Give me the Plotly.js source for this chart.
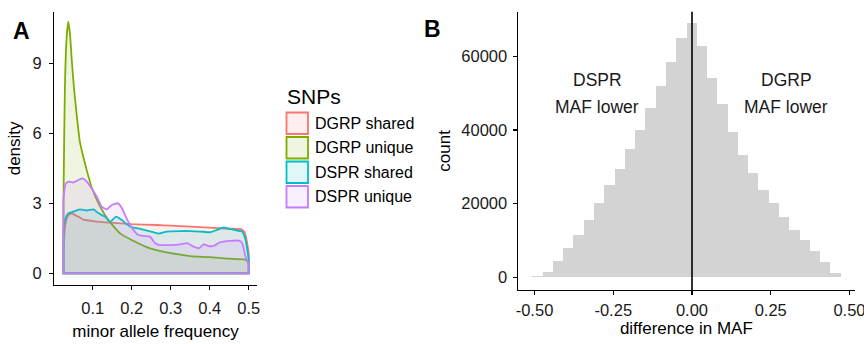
<!DOCTYPE html>
<html>
<head>
<meta charset="utf-8">
<script src="https://cdn.plot.ly/plotly-3.0.1.min.js"></script>
<style>html,body{margin:0;padding:0;background:#fff;}#chart{width:864px;height:344px;}</style>
</head>
<body>
<div id="chart"></div>
<script>
// ---------- Panel A: density of minor allele frequency ----------
const seriesNames = ["DGRP shared", "DGRP unique", "DSPR shared", "DSPR unique"];
const seriesColors = ["#F8766D", "#7CAE00", "#00BFC4", "#C77CFF"];

const dgrpSharedX = [0.025, 0.030, 0.036, 0.046, 0.060, 0.076, 0.100, 0.145, 0.200, 0.265, 0.300, 0.350, 0.400, 0.445, 0.480, 0.490, 0.496, 0.500];
const dgrpSharedY = [1.20, 2.10, 2.45, 2.57, 2.45, 2.30, 2.24, 2.17, 2.11, 2.07, 2.04, 2.00, 1.96, 1.91, 1.89, 1.75, 1.30, 0.86];

const dgrpUniqueX = [0.025, 0.027, 0.029, 0.033, 0.0375, 0.042, 0.046, 0.052, 0.059, 0.067, 0.075, 0.085, 0.097, 0.115, 0.140, 0.170, 0.200, 0.247, 0.300, 0.350, 0.400, 0.445, 0.488, 0.495, 0.500];
const dgrpUniqueY = [3.00, 6.00, 8.20, 10.07, 10.78, 10.20, 9.20, 7.93, 6.78, 5.64, 5.05, 4.40, 3.70, 3.00, 2.29, 1.71, 1.43, 1.07, 0.86, 0.74, 0.69, 0.63, 0.60, 0.55, 0.38];

const dsprSharedX = [0.025, 0.029, 0.037, 0.050, 0.067, 0.085, 0.102, 0.115, 0.132, 0.145, 0.160, 0.175, 0.196, 0.222, 0.247, 0.269, 0.290, 0.325, 0.350, 0.376, 0.402, 0.419, 0.436, 0.453, 0.470, 0.483, 0.492, 0.500];
const dsprSharedY = [1.86, 2.30, 2.57, 2.64, 2.74, 2.69, 2.74, 2.57, 2.42, 2.21, 2.43, 2.28, 2.00, 1.90, 1.80, 1.70, 1.79, 1.81, 1.81, 1.79, 1.76, 1.86, 1.97, 1.89, 1.83, 1.79, 1.43, 0.60];

const dsprUniqueX = [0.025, 0.031, 0.040, 0.050, 0.059, 0.073, 0.085, 0.097, 0.110, 0.123, 0.136, 0.149, 0.165, 0.175, 0.187, 0.200, 0.217, 0.230, 0.247, 0.260, 0.273, 0.299, 0.325, 0.342, 0.359, 0.372, 0.385, 0.397, 0.410, 0.427, 0.453, 0.475, 0.483, 0.492, 0.500];
const dsprUniqueY = [3.20, 3.85, 3.93, 3.89, 3.96, 4.07, 3.93, 3.64, 3.29, 2.86, 2.74, 2.93, 3.00, 2.79, 2.35, 1.95, 1.64, 1.60, 1.57, 1.29, 1.21, 1.21, 1.24, 1.29, 1.14, 1.07, 1.24, 1.17, 1.17, 1.33, 1.39, 1.40, 1.31, 0.71, 0.40];

const densityTicks = [0, 3, 6, 9];
const mafTicks = [0.1, 0.2, 0.3, 0.4, 0.5];
const mafTickLabels = ["0.1", "0.2", "0.3", "0.4", "0.5"];

// ---------- Panel B: histogram of MAF differences ----------
const diffBinCenters = [-0.4907, -0.4581, -0.4254, -0.3928, -0.3601, -0.3275, -0.2949, -0.2622, -0.2296, -0.1969,
  -0.1643, -0.1317, -0.0990, -0.0664, -0.0337, -0.0011, 0.0315, 0.0642, 0.0968, 0.1295,
  0.1621, 0.1947, 0.2274, 0.2600, 0.2927, 0.3253, 0.3579, 0.3906, 0.4232, 0.4559];
const diffBinWidth = 0.03264;
const diffCounts = [350, 1530, 4420, 7870, 11350, 15420, 20080, 24960, 29300, 34700,
  40020, 46000, 51870, 58330, 65030, 69100, 62800, 54100, 47080, 39520,
  33100, 28300, 23560, 20170, 16370, 12840, 9990, 7180, 4240, 1180];
const diffTicks = [-0.5, -0.25, 0, 0.25, 0.5];
const diffTickLabels = ["-0.50", "-0.25", "0.00", "0.25", "0.50"];
const countTicks = [0, 20000, 40000, 60000];
const countTickLabels = ["0", "20000", "40000", "60000"];

// ---------- helpers ----------
const W = 864, H = 344;
const px = v => v / W;
const py = v => (H - v) / H;
const FONT = "Liberation Sans, Arial, Helvetica, sans-serif";
const FILL_ALPHA = 0.12;
function rgba(hex, a) {
  const n = parseInt(hex.slice(1), 16);
  return `rgba(${(n >> 16) & 255},${(n >> 8) & 255},${n & 255},${a})`;
}

const seriesX = [dgrpSharedX, dgrpUniqueX, dsprSharedX, dsprUniqueX];
const seriesY = [dgrpSharedY, dgrpUniqueY, dsprSharedY, dsprUniqueY];

const traces = [];
seriesNames.forEach((name, i) => {
  const xs = seriesX[i], ys = seriesY[i];
  const n = xs.length;
  const col = seriesColors[i];
  // filled area (polygon closed to the zero baseline, as ggplot geom_density)
  traces.push({
    type: "scatter", mode: "lines", name: name,
    x: [xs[0]].concat(xs, [xs[n - 1], xs[0]]),
    y: [0].concat(ys, [0, 0]),
    xaxis: "x", yaxis: "y",
    fill: "toself", fillcolor: rgba(col, FILL_ALPHA),
    line: {width: 0, color: col}, showlegend: false, hoverinfo: "skip"
  });
  // density curve
  traces.push({
    type: "scatter", mode: "lines", name: name,
    x: xs, y: ys, xaxis: "x", yaxis: "y",
    line: {color: col, width: 1.8, shape: "spline", smoothing: 0.5},
    showlegend: false, hoverinfo: "skip"
  });
  // outline: right edge, baseline, left edge
  traces.push({
    type: "scatter", mode: "lines", name: name,
    x: [xs[n - 1], xs[n - 1], xs[0], xs[0]],
    y: [ys[n - 1], 0, 0, ys[0]],
    xaxis: "x", yaxis: "y",
    line: {color: col, width: 1.8}, showlegend: false, hoverinfo: "skip"
  });
});

traces.push({
  type: "bar", name: "difference in MAF",
  x: diffBinCenters, y: diffCounts, width: diffBinWidth,
  xaxis: "x2", yaxis: "y2",
  marker: {color: "#D3D3D3", line: {width: 0}},
  showlegend: false, hoverinfo: "skip"
});

const axisCommon = {
  showgrid: false, zeroline: false, showline: true, linecolor: "#000", linewidth: 1.2,
  ticks: "outside", ticklen: 4, tickwidth: 1.2, tickcolor: "#000",
  tickfont: {family: FONT, size: 16.5, color: "#1a1a1a"}, automargin: false,
  ticklabeloverflow: "allow"
};

// legend drawn in the ggplot style (square swatches)
const shapes = [];
const annotations = [];
const legTop = 112.5, legStep = 24.5, legSize = 21.5, legLeft = 286.5;
seriesNames.forEach((name, i) => {
  const top = legTop + i * legStep;
  shapes.push({
    type: "rect", xref: "paper", yref: "paper",
    x0: px(legLeft), x1: px(legLeft + legSize), y0: py(top + legSize), y1: py(top),
    fillcolor: rgba(seriesColors[i], FILL_ALPHA), line: {color: seriesColors[i], width: 1.8}
  });
  annotations.push({
    xref: "paper", yref: "paper", x: px(312.5), y: py(top + legSize / 2),
    xanchor: "left", yanchor: "middle", showarrow: false, text: name,
    font: {family: FONT, size: 16, color: "#000"}
  });
});
annotations.push({
  xref: "paper", yref: "paper", x: px(285), y: py(96), xanchor: "left", yanchor: "middle",
  showarrow: false, text: "SNPs", font: {family: FONT, size: 21, color: "#000"}
});
// panel letters
annotations.push({xref: "paper", yref: "paper", x: px(21.5), y: py(31), xanchor: "center", yanchor: "middle",
  showarrow: false, text: "<b>A</b>", font: {family: FONT, size: 23, color: "#000"}});
annotations.push({xref: "paper", yref: "paper", x: px(432.5), y: py(28.5), xanchor: "center", yanchor: "middle",
  showarrow: false, text: "<b>B</b>", font: {family: FONT, size: 23, color: "#000"}});
// panel B text labels
const labelFont = {family: FONT, size: 17.5, color: "#1a1a1a"};
annotations.push({xref: "x2", yref: "y2", x: -0.30, y: 53540, showarrow: false, text: "DSPR", font: labelFont});
annotations.push({xref: "x2", yref: "y2", x: -0.30, y: 46300, showarrow: false, text: "MAF lower", font: labelFont});
annotations.push({xref: "x2", yref: "y2", x: 0.30, y: 53540, showarrow: false, text: "DGRP", font: labelFont});
annotations.push({xref: "x2", yref: "y2", x: 0.30, y: 46300, showarrow: false, text: "MAF lower", font: labelFont});

shapes.push({type: "line", xref: "x2", yref: "y2 domain", x0: 0, x1: 0, y0: 0, y1: 1,
  line: {color: "#000", width: 1.6}, layer: "above"});

const titleFont = {family: FONT, size: 17, color: "#000"};

const layout = {
  width: W, height: H,
  margin: {l: 0, r: 0, t: 0, b: 0, pad: 0},
  paper_bgcolor: "#fff", plot_bgcolor: "rgba(0,0,0,0)",
  font: {family: FONT},
  bargap: 0,
  xaxis: Object.assign({}, axisCommon, {
    domain: [px(54.3), px(256.7)], range: [0.0015, 0.5205], anchor: "y",
    tickvals: mafTicks, ticktext: mafTickLabels, ticklabelstandoff: 4,
    title: {text: "minor allele frequency", font: titleFont, standoff: 9}
  }),
  yaxis: Object.assign({}, axisCommon, {
    domain: [py(285), py(11.7)], range: [-0.5015, 11.21], anchor: "x",
    tickvals: densityTicks, ticktext: densityTicks.map(String), ticklabelstandoff: 4,
    title: {text: "density", font: titleFont, standoff: 7}
  }),
  xaxis2: Object.assign({}, axisCommon, {
    domain: [px(517.7), px(855)], range: [-0.5533, 0.5175], anchor: "y2",
    tickvals: diffTicks, ticktext: diffTickLabels, ticklabelstandoff: 1,
    title: {text: "difference in MAF", font: titleFont, standoff: 1}
  }),
  yaxis2: Object.assign({}, axisCommon, {
    domain: [py(290), py(11.7)], range: [-3446, 72076], anchor: "x2",
    tickvals: countTicks, ticktext: countTickLabels, ticklabelstandoff: 2,
    title: {text: "count", font: titleFont, standoff: 6}
  }),
  shapes: shapes,
  annotations: annotations
};

Plotly.newPlot("chart", traces, layout, {displayModeBar: false, staticPlot: true});
</script>
</body>
</html>
